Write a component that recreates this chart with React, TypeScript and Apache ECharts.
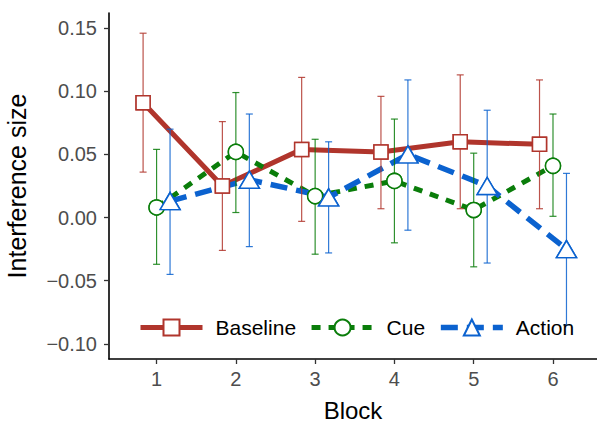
import React, { useEffect, useRef } from "react";
import * as echarts from "echarts";

const blocks = [1, 2, 3, 4, 5, 6];
const yTicks = [-0.1, -0.05, 0, 0.05, 0.1, 0.15];

const baselineMean = [0.091, 0.025, 0.054, 0.052, 0.060, 0.058];
const baselineLow = [0.036, -0.026, -0.003, 0.007, 0.007, 0.007];
const baselineHigh = [0.146, 0.076, 0.111, 0.096, 0.113, 0.109];

const cueMean = [0.008, 0.052, 0.017, 0.029, 0.006, 0.041];
const cueLow = [-0.037, 0.004, -0.029, -0.020, -0.039, 0.001];
const cueHigh = [0.054, 0.099, 0.062, 0.078, 0.051, 0.082];

const actionMean = [0.013, 0.030, 0.016, 0.050, 0.025, -0.025];
const actionLow = [-0.045, -0.023, -0.028, -0.010, -0.036, -0.085];
const actionHigh = [0.070, 0.082, 0.060, 0.109, 0.085, 0.035];

const groups = [
  { name: "Baseline", mean: baselineMean, low: baselineLow, high: baselineHigh, color: "#B0352C", dodge: -0.17, symbol: "rect", size: 14 as any, lineType: "solid" as any, width: 5 },
  { name: "Cue", mean: cueMean, low: cueLow, high: cueHigh, color: "#0A7D0A", dodge: 0, symbol: "circle", size: 15 as any, lineType: [9, 8] as any, width: 5 },
  { name: "Action", mean: actionMean, low: actionLow, high: actionHigh, color: "#0B62CF", dodge: 0.17, symbol: "triangle", size: [20, 17] as any, lineType: [17, 9] as any, width: 5.5 },
];

const fmt = (v: number) => {
  const s = Math.abs(v).toFixed(2);
  return v < -1e-9 ? "\u2212" + s : s;
};

const FONT = "Liberation Sans";

export default function App() {
  const ref = useRef<HTMLDivElement>(null);
  useEffect(() => {
    if (!ref.current) return;
    const chart = echarts.init(ref.current, null, { renderer: "svg" });
    const series: any[] = [];
    groups.forEach((g) => {
      series.push({
        name: g.name,
        type: "line",
        data: blocks.map((b, i) => [b + g.dodge, g.mean[i]]),
        z: 2,
        symbol: g.symbol,
        symbolSize: g.size,
        showSymbol: true,
        itemStyle: { color: "#fff", borderColor: g.color, borderWidth: 1.5 },
        lineStyle: { color: g.color, width: g.width, type: g.lineType },
        emphasis: { disabled: true },
      });
    });
    groups.forEach((g) => {
      series.push({
        name: g.name + " err",
        type: "custom",
        z: 3,
        data: blocks.map((b, i) => [b + g.dodge, g.low[i], g.high[i]]),
        encode: { x: 0, y: [1, 2] },
        renderItem: (params: any, api: any) => {
          const x = api.value(0);
          const lo = api.coord([x, api.value(1)]);
          const hi = api.coord([x, api.value(2)]);
          const hw = 3.5;
          const style = { stroke: g.color, lineWidth: 1.2, opacity: 0.85 };
          return {
            type: "group",
            children: [
              { type: "line", shape: { x1: lo[0], y1: lo[1], x2: hi[0], y2: hi[1] }, style },
              { type: "line", shape: { x1: hi[0] - hw, y1: hi[1], x2: hi[0] + hw, y2: hi[1] }, style },
              { type: "line", shape: { x1: lo[0] - hw, y1: lo[1], x2: lo[0] + hw, y2: lo[1] }, style },
            ],
          };
        },
      });
    });
    groups.forEach((g) => {
      series.push({
        name: g.name + " pts",
        type: "scatter",
        z: 4,
        data: blocks.map((b, i) => [b + g.dodge, g.mean[i]]),
        symbol: g.symbol,
        symbolSize: g.size,
        itemStyle: { color: "#fff", borderColor: g.color, borderWidth: 1.5, opacity: 1 },
        emphasis: { disabled: true },
      });
    });

    chart.setOption({
      animation: false,
      grid: { left: 109, top: 13, right: 0, bottom: 64, containLabel: false, outerBoundsMode: "none" },
      xAxis: {
        type: "value",
        min: 0.4,
        max: 6.555,
        name: "Block",
        nameLocation: "middle",
        nameGap: 41,
        nameTextStyle: { color: "#000", fontSize: 24, lineHeight: 21, fontFamily: FONT },
        axisLine: { show: true, onZero: false, lineStyle: { color: "#000", width: 1.6 } },
        axisTick: { show: true, length: 5, customValues: blocks, lineStyle: { color: "#333", width: 1.3 } },
        axisLabel: { customValues: blocks, color: "#4D4D4D", fontSize: 20, margin: 10, fontFamily: FONT },
        splitLine: { show: false },
      },
      yAxis: {
        type: "value",
        min: -0.112,
        max: 0.162,
        name: "Interference size",
        nameLocation: "middle",
        nameGap: 80,
        nameTextStyle: { color: "#000", fontSize: 25, fontFamily: FONT },
        axisLine: { show: true, onZero: false, lineStyle: { color: "#000", width: 1.6 } },
        axisTick: { show: true, length: 5, customValues: yTicks, lineStyle: { color: "#333", width: 1.3 } },
        axisLabel: { customValues: yTicks, color: "#4D4D4D", fontSize: 20, margin: 12, fontFamily: FONT, formatter: (v: number) => fmt(v) },
        splitLine: { show: false },
      },
      legend: {
        data: groups.map((g) => ({
          name: g.name,
          lineStyle: { color: g.color, width: g.width, type: g.lineType },
        })),
        left: 138,
        top: 317,
        orient: "horizontal",
        itemWidth: 62,
        itemHeight: 20,
        itemGap: 13,
        padding: 0,
        z: 10,
        textStyle: { color: "#000", fontSize: 21, fontFamily: FONT, padding: [0, 0, 0, 8] },
        selectedMode: false,
      },
      series,
    });
    return () => chart.dispose();
  }, []);
  return <div ref={ref} style={{ position: "fixed", left: 0, top: 0, width: 597, height: 423, background: "#fff" }} />;
}
